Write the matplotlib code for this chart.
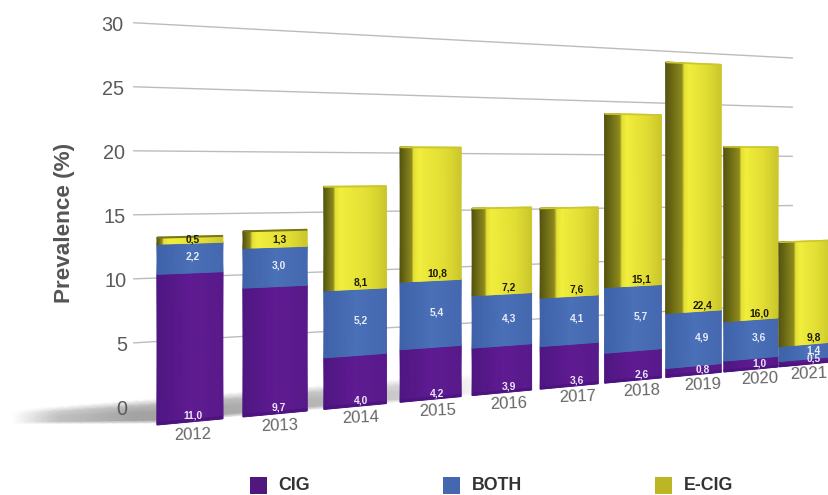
import matplotlib
matplotlib.use("Agg")
import matplotlib.pyplot as plt
import numpy as np
from matplotlib.colors import LinearSegmentedColormap
from matplotlib.patches import Rectangle
from matplotlib.transforms import Transform

plt.rcParams["font.family"] = ["Liberation Sans", "DejaVu Sans"]

years = [2012, 2013, 2014, 2015, 2016, 2017, 2018, 2019, 2020, 2021]
cig = [11.0, 9.7, 4.0, 4.2, 3.9, 3.6, 2.6, 0.8, 1.0, 0.5]
both = [2.2, 3.0, 5.2, 5.4, 4.3, 4.1, 5.7, 4.9, 3.6, 1.4]
ecig = [0.5, 1.3, 8.1, 10.8, 7.2, 7.6, 15.1, 22.4, 16.0, 9.8]
y_ticks = [0, 5, 10, 15, 20, 25, 30]
legend_names = ["CIG", "BOTH", "E-CIG"]
legend_colors = ["#50187f", "#4467b0", "#bdb624"]

# share of each bar's width taken by its shaded side face
side_share = [0.08, 0.12, 0.16, 0.20, 0.22, 0.26, 0.28, 0.31, 0.30, 0.29]


class Perspective(Transform):
    """Maps (category position, value) onto a receding plane, in pixels."""
    input_dims = 2
    output_dims = 2
    is_affine = False

    def __init__(self, drift, scale, base):
        super().__init__()
        self.drift, self.scale, self.base = drift, scale, base

    def transform_non_affine(self, values):
        values = np.asarray(values, dtype=float)
        s, v = values[:, 0], values[:, 1]
        w = 0.0315 * s + 1
        return np.column_stack([(93.66 * s + 157) / w,
                                (self.drift * s - self.scale * v + self.base) / w])


def bar_width(pos):
    return 0.76 + 0.0275 * pos


def draw_face(ax, trans, pos, low, high, cmap):
    u = np.linspace(0, 1, 60)
    xs = pos + u * bar_width(pos)
    X = np.vstack([xs, xs])
    Y = np.vstack([np.full_like(u, low), np.full_like(u, high)])
    C = np.vstack([u, u])
    ax.pcolormesh(X, Y, C, cmap=cmap, vmin=0, vmax=1, shading="gouraud",
                  transform=trans, zorder=3 + pos * 0.1)


fig = plt.figure(figsize=(8.29, 4.95), dpi=100)
ax = fig.add_axes([0, 0, 1, 1])
ax.set_axis_off()
ax.autoscale(False)
ax.set_xlim(0, 829)
ax.set_ylim(495, 0)

wall = Perspective(5.5, 12.7, 405) + ax.transData
front = Perspective(5.1, 13.7, 425) + ax.transData

# soft floor shadow behind the bars: strength fades along and across the band
shadow_cmap = LinearSegmentedColormap.from_list("shadow", ["#ffffff", "#a2a2a2"])
sx = np.linspace(-1.55, 4.3, 50)
s_low = np.interp(sx, [-1.55, 0, 4.3], [-0.5, -1.4, -1.4])
along = np.interp(sx, [-1.55, -1.1, -0.2, 1.8, 3, 4.3], [0, 0.65, 1, 0.8, 0.55, 0])
across = np.array([0.25, 1, 1, 0.75, 0])
shadow_x = np.tile(sx, (5, 1))
shadow_y = np.vstack([s_low + (0.5 - s_low) * f for f in [0, 0.12, 0.45, 0.75, 1]])
ax.pcolormesh(shadow_x, shadow_y, np.outer(across, along), cmap=shadow_cmap, vmin=0, vmax=1,
              shading="gouraud", transform=wall, zorder=1)

# back wall gridlines and the value axis labels
for tick in y_ticks:
    left, right = (-0.268, -0.13) if tick == 0 else (-0.268, 9.26)
    ax.plot([left, right], [tick, tick], color="#bcbcbc", lw=1,
            transform=wall, zorder=2, solid_capstyle="butt")
    pad = np.interp(tick, [10, 30], [-6, -10])
    ax.annotate(str(tick), xy=(-0.268, tick), xycoords=wall, xytext=(pad, -1),
                textcoords="offset pixels", ha="right", va="center_baseline",
                fontsize=14.3, color="#5a5a5a")

ax.text(65, 223, "Prevalence (%)", rotation=90, ha="center", va="center",
        fontsize=16.2, fontweight="bold", color="#555555")

purple_cmap = LinearSegmentedColormap.from_list("purple", ["#4f1682", "#5f1b92", "#581a8a"])
blue_cmap = LinearSegmentedColormap.from_list("blue", ["#3f62a8", "#4a70b8", "#4568af"])

for i, year in enumerate(years):
    width = bar_width(i)
    side = side_share[i]
    yellow_cmap = LinearSegmentedColormap.from_list(
        f"yellow{i}", [(0, "#56550f"), (side * 0.95, "#8f8c1f"), (side + 0.02, "#e4e035"),
                       (side + 0.1, "#f2ee3d"), (0.75, "#e0dc33"), (1, "#cbc72c")])
    cig_top = cig[i]
    both_top = cig_top + both[i]
    total = both_top + ecig[i]

    draw_face(ax, front, i, 0, cig_top, purple_cmap)
    draw_face(ax, front, i, cig_top, both_top, blue_cmap)
    draw_face(ax, front, i, both_top, total, yellow_cmap)

    # darker rim along the foot and thin top face of the bar
    ax.fill([i, i + width, i + width, i], [0, 0, 0.22, 0.22], color="#47127a",
            lw=0, alpha=0.7, transform=front, zorder=3.5 + i * 0.1)
    cap = "#77761c" if i < 2 else "#cbc72f"
    ax.fill([i, i + width, i + width, i], [total - 0.1, total - 0.1, total + 0.05, total + 0.05],
            color=cap, lw=0, transform=front, zorder=3.5 + i * 0.1)

    # value labels sit on the front face, right of the side face
    mid = i + (side + (1 - side) / 2) * width
    label_kw = dict(ha="center", va="center", fontsize=7.4, fontweight="bold",
                    transform=front, zorder=6, clip_on=True)
    ax.text(mid, 0.45, f"{cig[i]:.1f}".replace(".", ","), color="#ece6f4", **label_kw)
    ax.text(mid, cig_top + both[i] / 2 + 0.1, f"{both[i]:.1f}".replace(".", ","),
            color="#e6ecf6", **label_kw)
    ax.text(mid, both_top + min(ecig[i] / 2, 0.55), f"{ecig[i]:.1f}".replace(".", ","),
            color="#1c1c08", **label_kw)

    # the last year label is nudged in so it stays inside the figure
    year_x = mid - 0.09 if year == years[-1] else mid
    ax.text(year_x, -0.95, str(year), ha="center", va="center", fontsize=12, color="#666666",
            rotation=2, rotation_mode="anchor", transform=front, zorder=7)

# legend along the bottom edge
for name, color, box_x in zip(legend_names, legend_colors, [250, 443, 655]):
    ax.add_patch(Rectangle((box_x, 477), 17, 17, facecolor=color, edgecolor="none", zorder=8))
    ax.text(box_x + 28.5, 486, name, ha="left", va="center", fontsize=12.8,
            fontweight="bold", color="#333333", zorder=8)

fig.savefig("out.png", dpi=100)
